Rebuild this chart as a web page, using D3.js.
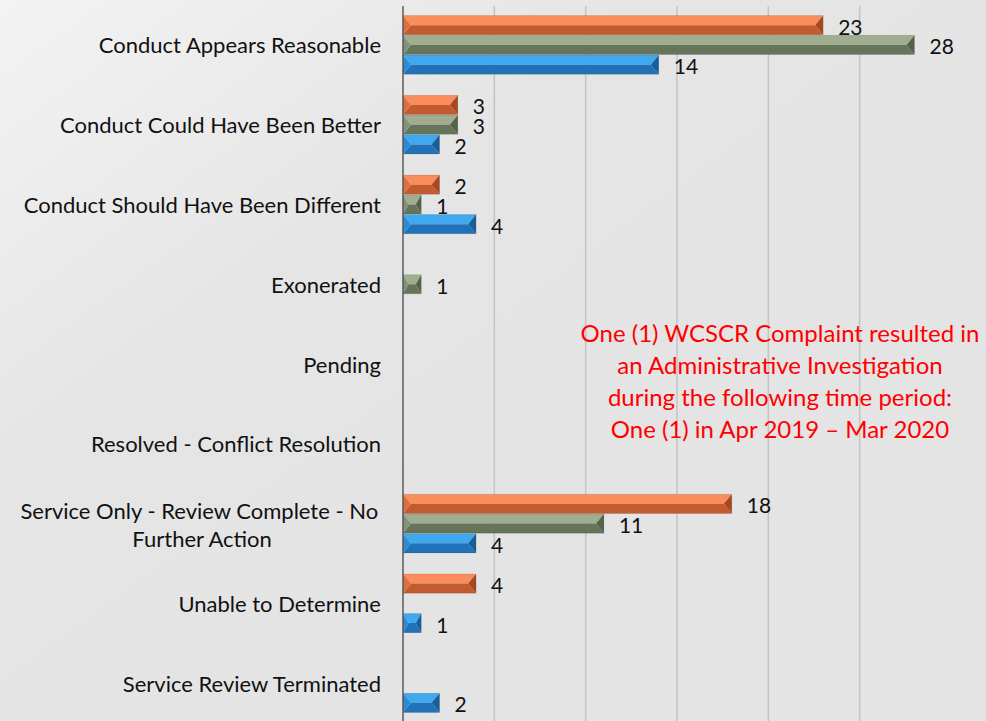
<!DOCTYPE html>
<html>
<head>
<meta charset="utf-8">
<script src="https://cdn.jsdelivr.net/npm/d3@7"></script>
<style>
  html, body { margin: 0; padding: 0; }
  body { width: 986px; height: 721px; overflow: hidden; }
  svg { display: block; font-family: Lato, "Open Sans", sans-serif; }
</style>
</head>
<body>
<svg id="chart" width="986" height="721"></svg>
<script>
// categories, top to bottom
var categories = [
	'Conduct Appears Reasonable',
	'Conduct Could Have Been Better',
	'Conduct Should Have Been Different',
	'Exonerated',
	'Pending',
	'Resolved - Conflict Resolution',
	'Service Only - Review Complete - No Further Action',
	'Unable to Determine',
	'Service Review Terminated'
];

// series as drawn inside each group, top to bottom
var seriesNames = ['Series 3', 'Series 2', 'Series 1'];
var orangeValues = [23, 3, 2, 0, 0, 0, 18, 4, 0];
var greenValues  = [28, 3, 1, 1, 0, 0, 11, 0, 0];
var blueValues   = [14, 2, 4, 0, 0, 0, 4, 1, 2];

var xTicks = [5, 10, 15, 20, 25];

var noteLines = [
	'One (1) WCSCR Complaint resulted in',
	'an Administrative Investigation',
	'during the following time period:',
	'One (1) in Apr 2019 \u2013 Mar 2020'
];

var faces = {
	'Series 3': { top: '#fb8d5c', bottom: '#c35b30', left: '#e06f3f', right: '#a64923' },
	'Series 2': { top: '#a0ad8f', bottom: '#65745a', left: '#84927a', right: '#55624a' },
	'Series 1': { top: '#40a8ef', bottom: '#2172b8', left: '#2d8bd4', right: '#1a5e99' }
};

var seriesValues = {
	'Series 3': orangeValues,
	'Series 2': greenValues,
	'Series 1': blueValues
};

var svg = d3.select('#chart');

// slide-like background, a little brighter at the top left
var defs = svg.append('defs');
var bg = defs.append('linearGradient').attr('id', 'bg')
	.attr('x1', '0').attr('y1', '0').attr('x2', '0.6').attr('y2', '0.6');
bg.append('stop').attr('offset', '0').attr('stop-color', '#f3f3f3');
bg.append('stop').attr('offset', '0.55').attr('stop-color', '#e5e5e5');
bg.append('stop').attr('offset', '1').attr('stop-color', '#e4e4e4');
svg.append('rect').attr('width', 986).attr('height', 721).attr('fill', 'url(#bg)');

var x = d3.scaleLinear().domain([0, 30]).range([403, 951]);
var y = d3.scaleBand().domain(categories).range([5, 723])
	.paddingInner(0.25).paddingOuter(0.125);
var ySub = d3.scaleBand().domain(seriesNames).range([0, y.bandwidth()]).padding(0.03);

// gridlines
svg.append('g').selectAll('line').data(xTicks).enter().append('line')
	.attr('x1', function(d) { return x(d); })
	.attr('x2', function(d) { return x(d); })
	.attr('y1', 6).attr('y2', 721)
	.attr('stroke', '#c4c4c4').attr('stroke-width', 1.5);

// bars
var rows = [];
categories.forEach(function(cat, i) {
	seriesNames.forEach(function(s) {
		rows.push({ cat: cat, series: s, value: seriesValues[s][i] });
	});
});
var shown = rows.filter(function(d) { return d.value > 0; });

var bars = svg.append('g').selectAll('g').data(shown).enter().append('g')
	.attr('transform', function(d) {
		return 'translate(' + x(0) + ',' + (y(d.cat) + ySub(d.series)) + ')';
	});

bars.each(function(d) {
	var g = d3.select(this);
	var w = x(d.value) - x(0);
	var h = ySub.bandwidth();
	var b = Math.min(8, w * 0.3);
	var m = h * 0.5;
	var c = faces[d.series];
	var poly = function(pts, fill) {
		g.append('path')
			.attr('d', 'M' + pts.map(function(p) { return p.join(','); }).join('L') + 'Z')
			.attr('fill', fill);
	};
	poly([[0, 0], [w, 0], [w - b, m], [b, m]], c.top);
	poly([[b, m], [w - b, m], [w, h], [0, h]], c.bottom);
	poly([[0, 0], [b, m], [0, h]], c.left);
	poly([[w, 0], [w, h], [w - b, m]], c.right);
	g.append('rect').attr('width', w).attr('height', h)
		.attr('fill', 'none').attr('stroke', 'rgba(0,0,0,0.12)').attr('stroke-width', 0.8);
});

// value labels
svg.append('g').selectAll('text').data(shown).enter().append('text')
	.attr('x', function(d) { return x(d.value) + 15; })
	.attr('y', function(d) { return y(d.cat) + ySub(d.series) + ySub.bandwidth() / 2 + 1; })
	.attr('dominant-baseline', 'central')
	.attr('font-size', 21)
	.attr('fill', '#111')
	.text(function(d) { return d.value; });

// vertical axis line
svg.append('line')
	.attr('x1', x(0)).attr('x2', x(0)).attr('y1', 6).attr('y2', 721)
	.attr('stroke', '#5a5a5a').attr('stroke-width', 1.5);

// category labels, wrapped when too long
var labelRight = 381, wrapWidth = 368;
var catLabels = svg.append('g');
categories.forEach(function(cat) {
	var t = catLabels.append('text').attr('font-size', 22).attr('fill', '#111')
		.attr('dominant-baseline', 'central');
	t.text(cat);
	var cy = y(cat) + y.bandwidth() / 2;
	if (t.node().getComputedTextLength() <= wrapWidth) {
		t.attr('x', labelRight).attr('y', cy).attr('text-anchor', 'end');
		return;
	}
	var words = cat.split(' '), lines = [], line = [];
	words.forEach(function(wd) {
		line.push(wd);
		t.text(line.join(' '));
		if (t.node().getComputedTextLength() > wrapWidth && line.length > 1) {
			line.pop();
			lines.push(line.join(' ') + ' ');
			line = [wd];
		}
	});
	lines.push(line.join(' '));
	var maxW = 0;
	lines.forEach(function(l) {
		t.text(l);
		maxW = Math.max(maxW, t.node().getComputedTextLength());
	});
	t.text(null);
	var lh = 28;
	lines.forEach(function(l, i) {
		t.append('tspan')
			.attr('x', labelRight - maxW / 2)
			.attr('y', cy + (i - (lines.length - 1) / 2) * lh)
			.attr('text-anchor', 'middle')
			.text(l);
	});
});

// red note
svg.append('g').selectAll('text').data(noteLines).enter().append('text')
	.attr('x', 780)
	.attr('y', function(d, i) { return 332 + i * 32; })
	.attr('text-anchor', 'middle')
	.attr('dominant-baseline', 'central')
	.attr('font-size', 24)
	.attr('fill', '#ff0000')
	.text(function(d) { return d; });
</script>
</body>
</html>
